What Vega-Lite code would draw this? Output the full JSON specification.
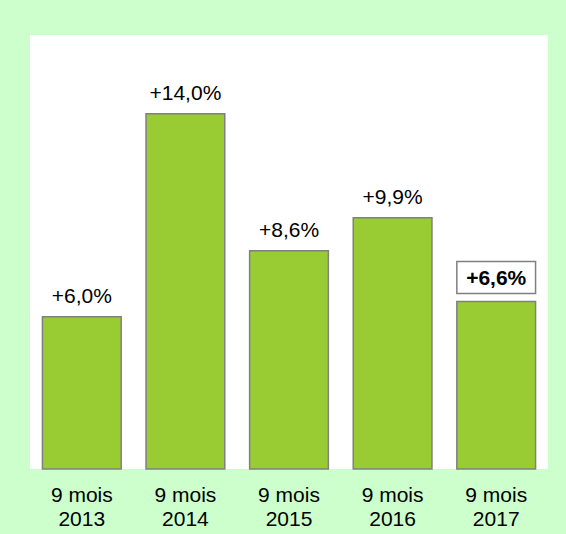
{
  "$schema": "https://vega.github.io/schema/vega-lite/v6.json",
  "width": 518,
  "height": 434,
  "autosize": {"type": "none"},
  "padding": {"left": 30, "top": 35, "right": 18, "bottom": 65},
  "background": "#ccffcc",
  "config": {
    "view": {"fill": "white", "stroke": null},
    "font": "Liberation Sans"
  },
  "data": {
    "values": [
      {"year": "2013", "v": 6.0, "label": "+6,0%", "hl": false},
      {"year": "2014", "v": 14.0, "label": "+14,0%", "hl": false},
      {"year": "2015", "v": 8.6, "label": "+8,6%", "hl": false},
      {"year": "2016", "v": 9.9, "label": "+9,9%", "hl": false},
      {"year": "2017", "v": 6.6, "label": "+6,6%", "hl": true}
    ]
  },
  "encoding": {
    "x": {
      "field": "year",
      "type": "nominal",
      "sort": null,
      "scale": {"paddingInner": 0.24, "paddingOuter": 0.12},
      "axis": {
        "title": null,
        "ticks": false,
        "domain": false,
        "labelAngle": 0,
        "labelFont": "Liberation Sans",
        "labelFontSize": 21,
        "labelColor": "black",
        "labelPadding": 15,
        "labelLineHeight": 24,
        "labelExpr": "['9 mois', datum.label]"
      }
    },
    "y": {
      "field": "v",
      "type": "quantitative",
      "scale": {"domain": [0, 17.1], "nice": false},
      "axis": null
    }
  },
  "layer": [
    {
      "mark": {"type": "bar", "color": "#99cc33", "stroke": "#808080", "strokeWidth": 1.5}
    },
    {
      "transform": [{"filter": "datum.hl"}],
      "mark": {"type": "bar", "fill": "white", "stroke": "#808080", "strokeWidth": 1.5, "yOffset": -40, "y2Offset": -8},
      "encoding": {
        "y2": {"field": "v"}
      }
    },
    {
      "transform": [{"filter": "!datum.hl"}],
      "mark": {"type": "text", "baseline": "alphabetic", "dy": -14, "fontSize": 21, "font": "Liberation Sans", "color": "black"},
      "encoding": {
        "text": {"field": "label"}
      }
    },
    {
      "transform": [{"filter": "datum.hl"}],
      "mark": {"type": "text", "baseline": "alphabetic", "dy": -16, "fontSize": 21, "fontWeight": "bold", "font": "Liberation Sans", "color": "black"},
      "encoding": {
        "text": {"field": "label"}
      }
    }
  ]
}
